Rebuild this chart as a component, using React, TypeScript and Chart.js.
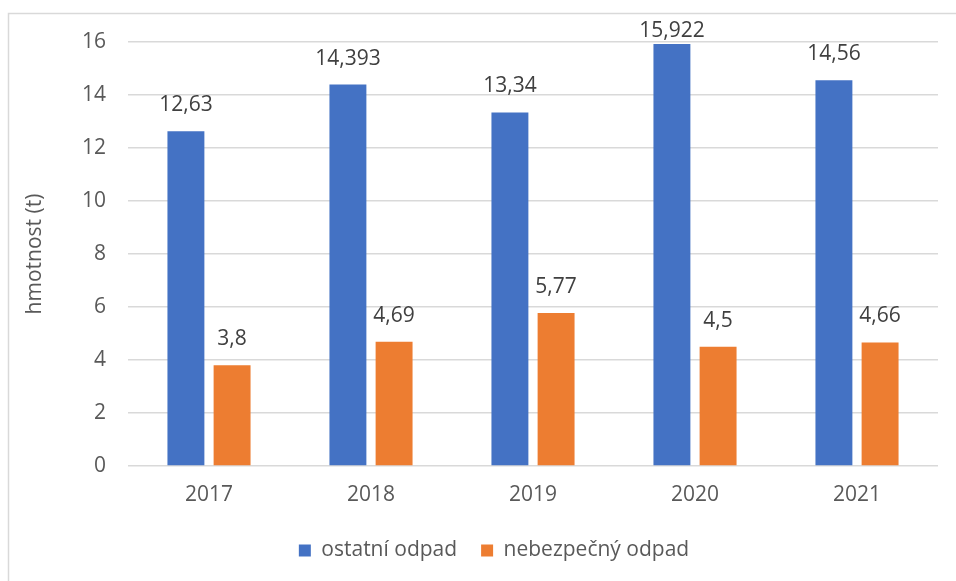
import React, { useEffect, useRef } from "react";
import { Chart, registerables } from "chart.js";

Chart.register(...registerables);

const categories = ["2017", "2018", "2019", "2020", "2021"];
const ostatni = [12.63, 14.393, 13.34, 15.922, 14.56];
const nebezpecny = [3.8, 4.69, 5.77, 4.5, 4.66];
const seriesNames = ["ostatní odpad", "nebezpečný odpad"];
const yTitle = "hmotnost (t)";

const FONT = "'Open Sans', sans-serif";

const framePlugin = {
  id: "frame",
  beforeDraw(chart: any) {
    const ctx = chart.ctx;
    ctx.save();
    ctx.strokeStyle = "#d9d9d9";
    ctx.lineWidth = 1.5;
    ctx.beginPath();
    ctx.moveTo(8.5, chart.height + 2);
    ctx.lineTo(8.5, 13.5);
    ctx.lineTo(chart.width + 2, 13.5);
    ctx.stroke();
    ctx.restore();
  },
};

const labelPlugin = {
  id: "valueLabels",
  afterDatasetsDraw(chart: any) {
    const ctx = chart.ctx;
    ctx.save();
    ctx.font = `21px ${FONT}`;
    ctx.fillStyle = "#404040";
    ctx.textAlign = "center";
    ctx.textBaseline = "middle";
    chart.data.datasets.forEach((ds: any, di: number) => {
      const meta = chart.getDatasetMeta(di);
      meta.data.forEach((el: any, i: number) => {
        const v = ds.data[i];
        const txt = String(v).replace(".", ",");
        const y = Math.max(el.y - 26, chart.chartArea.top - 11);
        ctx.fillText(txt, el.x, y);
      });
    });
    ctx.restore();
  },
};

export default function App() {
  const ref = useRef<HTMLCanvasElement>(null);
  useEffect(() => {
    if (!ref.current) return;
    const chart = new Chart(ref.current, {
      type: "bar",
      data: {
        labels: categories,
        datasets: [
          {
            label: seriesNames[0],
            data: ostatni,
            backgroundColor: "#4472C4",
            categoryPercentage: 0.57,
            barPercentage: 0.8,
          },
          {
            label: seriesNames[1],
            data: nebezpecny,
            backgroundColor: "#ED7D31",
            categoryPercentage: 0.57,
            barPercentage: 0.8,
          },
        ],
      },
      options: {
        responsive: false,
        animation: false,
        devicePixelRatio: 1,
        layout: { padding: { top: 42, left: 50, right: 18, bottom: 10 } },
        plugins: {
          tooltip: { enabled: false },
          legend: {
            position: "bottom",
            labels: {
              boxWidth: 12,
              boxHeight: 12,
              padding: 24,
              color: "#595959",
              font: { family: FONT, size: 21 },
            },
          },
        },
        scales: {
          x: {
            grid: { display: false, drawTicks: false },
            border: { display: false },
            ticks: { color: "#595959", font: { family: FONT, size: 21 }, padding: 16 },
            afterFit(scale: any) {
              scale.height = 50;
            },
          },
          y: {
            min: 0,
            max: 16,
            ticks: { stepSize: 2, color: "#595959", font: { family: FONT, size: 21 }, padding: 22 },
            grid: { color: "#d9d9d9", lineWidth: 1.5, drawTicks: false },
            border: { display: false },
            title: {
              display: true,
              text: yTitle,
              color: "#595959",
              font: { family: FONT, size: 21 },
              padding: { top: -27.6, bottom: 0 },
            },
            afterFit(scale: any) {
              scale.width = 78;
            },
          },
        },
      },
      plugins: [framePlugin, labelPlugin],
    });
    return () => chart.destroy();
  }, []);
  return (
    <div style={{ position: "fixed", left: 0, top: 0, width: 956, height: 581, background: "#fff" }}>
      <canvas ref={ref} width={956} height={581} />
    </div>
  );
}
